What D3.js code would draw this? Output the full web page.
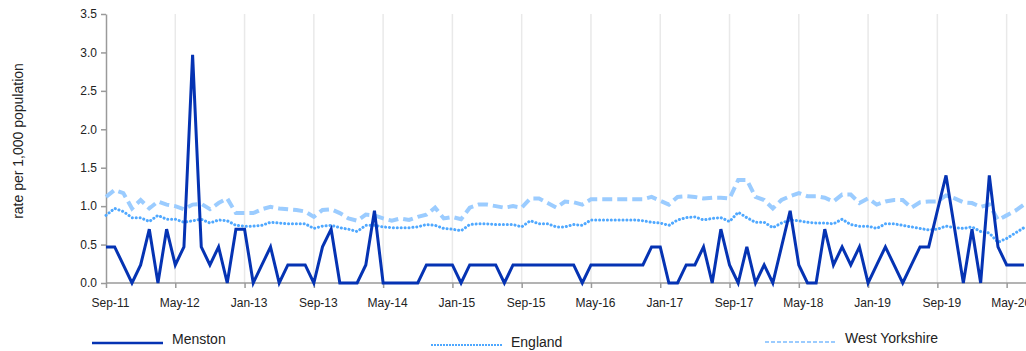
<!DOCTYPE html>
<html>
<head>
<meta charset="utf-8">
<script src="https://cdn.jsdelivr.net/npm/d3@7"></script>
<style>
  body { margin: 0; background: #fff; }
  svg { display: block; font-family: Arial, "Liberation Sans", sans-serif; }
  .axis text { font-size: 12px; fill: #222; }
  .axis path, .axis line { stroke: #9a9a9a; }
</style>
</head>
<body>
<div id="chart"></div>
<script>
// monthly rates per 1,000 population, Sep-11 onwards
const startMonth = new Date(2011, 8, 1);

const menston = [
  0.47, 0.47, 0.235, 0, 0.235, 0.7, 0, 0.7, 0.235, 0.47,
  2.97, 0.47, 0.235, 0.47, 0, 0.7, 0.7, 0, 0.235, 0.47,
  0, 0.235, 0.235, 0.235, 0, 0.47, 0.7, 0, 0, 0,
  0.235, 0.94, 0, 0, 0, 0, 0, 0.235, 0.235, 0.235,
  0.235, 0, 0.235, 0.235, 0.235, 0.235, 0, 0.235, 0.235, 0.235,
  0.235, 0.235, 0.235, 0.235, 0.235, 0, 0.235, 0.235, 0.235, 0.235,
  0.235, 0.235, 0.235, 0.47, 0.47, 0, 0, 0.235, 0.235, 0.47,
  0, 0.7, 0.235, 0, 0.47, 0, 0.235, 0, 0.47, 0.94,
  0.235, 0, 0, 0.7, 0.235, 0.47, 0.235, 0.47, 0, 0.235,
  0.47, 0.235, 0, 0.235, 0.47, 0.47, 0.94, 1.4, 0.7, 0,
  0.7, 0, 1.4, 0.47, 0.235, 0.235, 0.235
];

const england = [
  0.88, 0.97, 0.93, 0.85, 0.85, 0.80, 0.88, 0.83, 0.83, 0.79,
  0.81, 0.83, 0.78, 0.82, 0.81, 0.75, 0.74, 0.74, 0.75, 0.79,
  0.78, 0.77, 0.77, 0.77, 0.71, 0.74, 0.75, 0.72, 0.70, 0.67,
  0.75, 0.75, 0.73, 0.72, 0.72, 0.72, 0.73, 0.76, 0.75, 0.71,
  0.70, 0.68, 0.76, 0.77, 0.77, 0.76, 0.76, 0.76, 0.73, 0.81,
  0.77, 0.77, 0.73, 0.73, 0.76, 0.75, 0.82, 0.82, 0.82, 0.82,
  0.82, 0.82, 0.81, 0.79, 0.78, 0.75, 0.82, 0.85, 0.86, 0.82,
  0.84, 0.85, 0.80, 0.92, 0.85, 0.79, 0.79, 0.72, 0.78, 0.82,
  0.81, 0.79, 0.78, 0.78, 0.77, 0.83, 0.76, 0.74, 0.74, 0.71,
  0.77, 0.77, 0.75, 0.73, 0.71, 0.69, 0.70, 0.74, 0.72, 0.71,
  0.73, 0.67, 0.65, 0.53, 0.58, 0.65, 0.72
];

const westYorkshire = [
  1.12, 1.21, 1.17, 0.97, 1.08, 0.97, 1.06, 1.02, 1.00, 0.96,
  1.02, 1.03, 0.96, 1.04, 1.10, 0.91, 0.91, 0.91, 0.96, 0.99,
  0.97, 0.96, 0.95, 0.93, 0.86, 0.95, 0.96, 0.91, 0.84, 0.81,
  0.89, 0.88, 0.84, 0.81, 0.84, 0.82, 0.86, 0.89, 0.98, 0.84,
  0.86, 0.83, 0.98, 1.02, 1.02, 1.00, 0.98, 1.00, 0.98, 1.10,
  1.10, 1.04, 0.98, 1.06, 1.05, 1.02, 1.09, 1.09, 1.09, 1.09,
  1.09, 1.09, 1.09, 1.12, 1.07, 1.02, 1.12, 1.13, 1.12, 1.10,
  1.11, 1.11, 1.10, 1.34, 1.34, 1.12, 1.08, 0.97, 1.08, 1.13,
  1.17, 1.13, 1.13, 1.11, 1.06, 1.15, 1.15, 1.04, 1.10, 1.02,
  1.06, 1.08, 1.08, 0.98, 1.05, 1.06, 1.06, 1.14, 1.10, 1.05,
  1.04, 0.99, 1.02, 0.82, 0.88, 0.94, 1.02
];

const yTicks = [0, 0.5, 1, 1.5, 2, 2.5, 3, 3.5];

const config = {
  width: 1026,
  height: 351,
  margin: {top: 14, left: 106},
  plotHeight: 269,
  monthStep: 8.66
};

const months = d3.timeMonth.range(startMonth, d3.timeMonth.offset(startMonth, menston.length));
const fmt = d3.timeFormat('%b-%y');

const svg = d3.select('#chart').append('svg')
    .attr('width', config.width)
    .attr('height', config.height);

const chart = svg.append('g')
    .attr('transform', `translate(${config.margin.left},${config.margin.top})`);

const xScale = d3.scalePoint()
    .domain(months)
    .range([0, config.monthStep * (months.length - 1)]);

const yScale = d3.scaleLinear()
    .domain([0, 3.5])
    .range([config.plotHeight, 0]);

const tickMonths = months.filter((d, i) => i % 8 === 0);

// vertical gridlines
chart.append('g')
  .selectAll('line')
  .data(tickMonths.slice(1))
  .join('line')
    .attr('x1', d => xScale(d))
    .attr('x2', d => xScale(d))
    .attr('y1', 0)
    .attr('y2', config.plotHeight)
    .attr('stroke', '#e9e9e9')
    .attr('stroke-width', 1.5);

const xAxis = d3.axisBottom(xScale)
    .tickValues(tickMonths)
    .tickFormat(fmt)
    .tickSize(5)
    .tickSizeOuter(0)
    .tickPadding(10);

const xAxisG = chart.append('g')
    .attr('class', 'axis x-axis')
    .attr('transform', `translate(0,${config.plotHeight})`)
    .call(xAxis);
xAxisG.select('.domain').attr('d', `M0,0H${config.width}`).attr('stroke-width', 1.5);
xAxisG.selectAll('line').attr('stroke-width', 1.5);
xAxisG.selectAll('text').attr('dx', 4);

const yAxis = d3.axisLeft(yScale)
    .tickValues(yTicks)
    .tickFormat(d3.format('.1f'))
    .tickSize(5)
    .tickSizeOuter(0)
    .tickPadding(4);

const yAxisG = chart.append('g')
    .attr('class', 'axis y-axis')
    .call(yAxis);
yAxisG.select('.domain').attr('stroke-width', 1.5);
yAxisG.selectAll('line').attr('stroke-width', 1.5);

svg.append('text')
    .attr('transform', 'translate(23,141) rotate(-90)')
    .attr('text-anchor', 'middle')
    .attr('font-size', 14)
    .attr('fill', '#222')
    .text('rate per 1,000 population');

const series = [
  {name: 'Menston', values: menston, color: '#0533b3', width: 3, dash: null, cap: 'butt'},
  {name: 'England', values: england, color: '#4fa8ff', width: 3, dash: '0.1 3.8', cap: 'round'},
  {name: 'West Yorkshire', values: westYorkshire, color: '#9bccff', width: 4, dash: '10 5', cap: 'butt'}
];

const line = d3.line()
    .x((d, i) => xScale(months[i]))
    .y(d => yScale(d));

// draw back to front so Menston sits on top
chart.selectAll('.series')
  .data(series.slice().reverse())
  .join('path')
    .attr('class', 'series')
    .attr('fill', 'none')
    .attr('stroke', d => d.color)
    .attr('stroke-width', d => d.width)
    .attr('stroke-dasharray', d => d.dash)
    .attr('stroke-linecap', d => d.cap)
    .attr('stroke-linejoin', 'miter')
    .attr('d', d => line(d.values));

// legend
const legendItems = [
  {x: 92, y: 343, ty: 344, width: 2.5, dash: null},
  {x: 431, y: 345, ty: 347, width: 2, dash: '2 1'},
  {x: 765, y: 342, ty: 343, width: 2, dash: '4 2'}
];

const legend = svg.append('g')
  .selectAll('g')
  .data(series.map((s, i) => Object.assign({}, s, legendItems[i])))
  .join('g')
    .attr('transform', d => `translate(${d.x},0)`);

legend.append('line')
    .attr('x1', 0).attr('x2', 71)
    .attr('y1', d => d.y).attr('y2', d => d.y)
    .attr('stroke', d => d.color)
    .attr('stroke-width', d => d.width)
    .attr('stroke-dasharray', d => d.dash);

legend.append('text')
    .attr('x', 80)
    .attr('y', d => d.ty)
    .attr('font-size', 14)
    .attr('fill', '#222')
    .text(d => d.name);
</script>
</body>
</html>
